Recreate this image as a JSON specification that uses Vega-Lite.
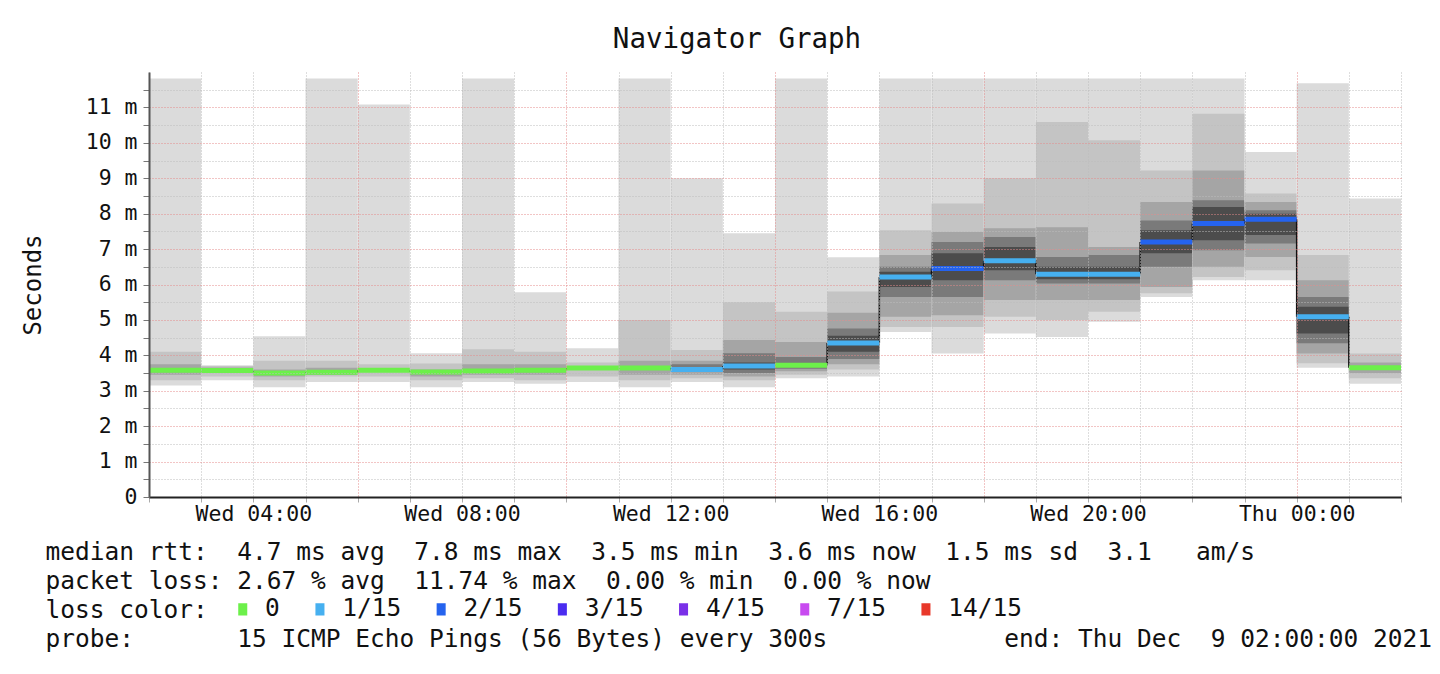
{
  "$schema": "https://vega.github.io/schema/vega-lite/v6.json",
  "width": 1252,
  "height": 425,
  "autosize": {"type": "none"},
  "padding": {"left": 149, "top": 72, "right": 39, "bottom": 177},
  "background": "#ffffff",
  "title": {"text": "Navigator Graph", "font": "DejaVu Sans Mono", "fontSize": 27.5, "fontWeight": "normal", "color": "#111111", "anchor": "middle", "dx": -38, "offset": 19, "frame": "group"},
  "resolve": {"axis": {"x": "independent", "y": "independent"}},
  "datasets": {
    "hours": [
      {"start": "2021-12-08T02:00:00Z", "end": "2021-12-08T03:00:00Z", "median": 3.58, "loss": "0"},
      {"start": "2021-12-08T03:00:00Z", "end": "2021-12-08T04:00:00Z", "median": 3.57, "loss": "0"},
      {"start": "2021-12-08T04:00:00Z", "end": "2021-12-08T05:00:00Z", "median": 3.50, "loss": "0"},
      {"start": "2021-12-08T05:00:00Z", "end": "2021-12-08T06:00:00Z", "median": 3.52, "loss": "0"},
      {"start": "2021-12-08T06:00:00Z", "end": "2021-12-08T07:00:00Z", "median": 3.58, "loss": "0"},
      {"start": "2021-12-08T07:00:00Z", "end": "2021-12-08T08:00:00Z", "median": 3.53, "loss": "0"},
      {"start": "2021-12-08T08:00:00Z", "end": "2021-12-08T09:00:00Z", "median": 3.56, "loss": "0"},
      {"start": "2021-12-08T09:00:00Z", "end": "2021-12-08T10:00:00Z", "median": 3.58, "loss": "0"},
      {"start": "2021-12-08T10:00:00Z", "end": "2021-12-08T11:00:00Z", "median": 3.64, "loss": "0"},
      {"start": "2021-12-08T11:00:00Z", "end": "2021-12-08T12:00:00Z", "median": 3.64, "loss": "0"},
      {"start": "2021-12-08T12:00:00Z", "end": "2021-12-08T13:00:00Z", "median": 3.60, "loss": "1/15"},
      {"start": "2021-12-08T13:00:00Z", "end": "2021-12-08T14:00:00Z", "median": 3.70, "loss": "1/15"},
      {"start": "2021-12-08T14:00:00Z", "end": "2021-12-08T15:00:00Z", "median": 3.72, "loss": "0"},
      {"start": "2021-12-08T15:00:00Z", "end": "2021-12-08T16:00:00Z", "median": 4.35, "loss": "1/15"},
      {"start": "2021-12-08T16:00:00Z", "end": "2021-12-08T17:00:00Z", "median": 6.21, "loss": "1/15"},
      {"start": "2021-12-08T17:00:00Z", "end": "2021-12-08T18:00:00Z", "median": 6.45, "loss": "2/15"},
      {"start": "2021-12-08T18:00:00Z", "end": "2021-12-08T19:00:00Z", "median": 6.67, "loss": "1/15"},
      {"start": "2021-12-08T19:00:00Z", "end": "2021-12-08T20:00:00Z", "median": 6.29, "loss": "1/15"},
      {"start": "2021-12-08T20:00:00Z", "end": "2021-12-08T21:00:00Z", "median": 6.29, "loss": "1/15"},
      {"start": "2021-12-08T21:00:00Z", "end": "2021-12-08T22:00:00Z", "median": 7.20, "loss": "2/15"},
      {"start": "2021-12-08T22:00:00Z", "end": "2021-12-08T23:00:00Z", "median": 7.72, "loss": "2/15"},
      {"start": "2021-12-08T23:00:00Z", "end": "2021-12-09T00:00:00Z", "median": 7.84, "loss": "2/15"},
      {"start": "2021-12-09T00:00:00Z", "end": "2021-12-09T01:00:00Z", "median": 5.09, "loss": "1/15"},
      {"start": "2021-12-09T01:00:00Z", "end": "2021-12-09T02:00:00Z", "median": 3.65, "loss": "0"}
    ],
    "smoke": [
      {"start": "2021-12-08T02:00:00Z", "end": "2021-12-08T03:00:00Z", "band": 1, "lo": 3.15, "hi": 11.82},
      {"start": "2021-12-08T02:00:00Z", "end": "2021-12-08T03:00:00Z", "band": 2, "lo": 3.30, "hi": 4.10},
      {"start": "2021-12-08T02:00:00Z", "end": "2021-12-08T03:00:00Z", "band": 3, "lo": 3.45, "hi": 3.75},
      {"start": "2021-12-08T03:00:00Z", "end": "2021-12-08T04:00:00Z", "band": 1, "lo": 3.30, "hi": 3.72},
      {"start": "2021-12-08T03:00:00Z", "end": "2021-12-08T04:00:00Z", "band": 2, "lo": 3.40, "hi": 3.70},
      {"start": "2021-12-08T03:00:00Z", "end": "2021-12-08T04:00:00Z", "band": 3, "lo": 3.50, "hi": 3.66},
      {"start": "2021-12-08T04:00:00Z", "end": "2021-12-08T05:00:00Z", "band": 1, "lo": 3.10, "hi": 4.54},
      {"start": "2021-12-08T04:00:00Z", "end": "2021-12-08T05:00:00Z", "band": 2, "lo": 3.30, "hi": 3.85},
      {"start": "2021-12-08T04:00:00Z", "end": "2021-12-08T05:00:00Z", "band": 3, "lo": 3.40, "hi": 3.60},
      {"start": "2021-12-08T05:00:00Z", "end": "2021-12-08T06:00:00Z", "band": 1, "lo": 3.25, "hi": 11.82},
      {"start": "2021-12-08T05:00:00Z", "end": "2021-12-08T06:00:00Z", "band": 2, "lo": 3.40, "hi": 3.85},
      {"start": "2021-12-08T05:00:00Z", "end": "2021-12-08T06:00:00Z", "band": 3, "lo": 3.45, "hi": 3.65},
      {"start": "2021-12-08T06:00:00Z", "end": "2021-12-08T07:00:00Z", "band": 1, "lo": 3.25, "hi": 11.08},
      {"start": "2021-12-08T06:00:00Z", "end": "2021-12-08T07:00:00Z", "band": 2, "lo": 3.40, "hi": 3.75},
      {"start": "2021-12-08T07:00:00Z", "end": "2021-12-08T08:00:00Z", "band": 1, "lo": 3.10, "hi": 4.06},
      {"start": "2021-12-08T07:00:00Z", "end": "2021-12-08T08:00:00Z", "band": 2, "lo": 3.30, "hi": 3.77},
      {"start": "2021-12-08T07:00:00Z", "end": "2021-12-08T08:00:00Z", "band": 3, "lo": 3.40, "hi": 3.60},
      {"start": "2021-12-08T08:00:00Z", "end": "2021-12-08T09:00:00Z", "band": 1, "lo": 3.25, "hi": 11.82},
      {"start": "2021-12-08T08:00:00Z", "end": "2021-12-08T09:00:00Z", "band": 2, "lo": 3.35, "hi": 4.17},
      {"start": "2021-12-08T08:00:00Z", "end": "2021-12-08T09:00:00Z", "band": 3, "lo": 3.45, "hi": 3.75},
      {"start": "2021-12-08T09:00:00Z", "end": "2021-12-08T10:00:00Z", "band": 1, "lo": 3.20, "hi": 5.78},
      {"start": "2021-12-08T09:00:00Z", "end": "2021-12-08T10:00:00Z", "band": 2, "lo": 3.30, "hi": 4.10},
      {"start": "2021-12-08T09:00:00Z", "end": "2021-12-08T10:00:00Z", "band": 3, "lo": 3.45, "hi": 3.75},
      {"start": "2021-12-08T10:00:00Z", "end": "2021-12-08T11:00:00Z", "band": 1, "lo": 3.25, "hi": 4.20},
      {"start": "2021-12-08T10:00:00Z", "end": "2021-12-08T11:00:00Z", "band": 2, "lo": 3.40, "hi": 3.80},
      {"start": "2021-12-08T11:00:00Z", "end": "2021-12-08T12:00:00Z", "band": 1, "lo": 3.10, "hi": 11.82},
      {"start": "2021-12-08T11:00:00Z", "end": "2021-12-08T12:00:00Z", "band": 2, "lo": 3.30, "hi": 5.00},
      {"start": "2021-12-08T11:00:00Z", "end": "2021-12-08T12:00:00Z", "band": 3, "lo": 3.45, "hi": 3.85},
      {"start": "2021-12-08T12:00:00Z", "end": "2021-12-08T13:00:00Z", "band": 1, "lo": 3.25, "hi": 9.00},
      {"start": "2021-12-08T12:00:00Z", "end": "2021-12-08T13:00:00Z", "band": 2, "lo": 3.35, "hi": 4.15},
      {"start": "2021-12-08T12:00:00Z", "end": "2021-12-08T13:00:00Z", "band": 3, "lo": 3.45, "hi": 3.85},
      {"start": "2021-12-08T12:00:00Z", "end": "2021-12-08T13:00:00Z", "band": 4, "lo": 3.55, "hi": 3.75},
      {"start": "2021-12-08T13:00:00Z", "end": "2021-12-08T14:00:00Z", "band": 1, "lo": 3.10, "hi": 7.45},
      {"start": "2021-12-08T13:00:00Z", "end": "2021-12-08T14:00:00Z", "band": 2, "lo": 3.30, "hi": 5.50},
      {"start": "2021-12-08T13:00:00Z", "end": "2021-12-08T14:00:00Z", "band": 3, "lo": 3.40, "hi": 4.43},
      {"start": "2021-12-08T13:00:00Z", "end": "2021-12-08T14:00:00Z", "band": 4, "lo": 3.50, "hi": 4.06},
      {"start": "2021-12-08T13:00:00Z", "end": "2021-12-08T14:00:00Z", "band": 5, "lo": 3.60, "hi": 3.80},
      {"start": "2021-12-08T14:00:00Z", "end": "2021-12-08T15:00:00Z", "band": 1, "lo": 3.35, "hi": 11.82},
      {"start": "2021-12-08T14:00:00Z", "end": "2021-12-08T15:00:00Z", "band": 2, "lo": 3.45, "hi": 5.23},
      {"start": "2021-12-08T14:00:00Z", "end": "2021-12-08T15:00:00Z", "band": 3, "lo": 3.55, "hi": 4.38},
      {"start": "2021-12-08T14:00:00Z", "end": "2021-12-08T15:00:00Z", "band": 4, "lo": 3.62, "hi": 3.95},
      {"start": "2021-12-08T15:00:00Z", "end": "2021-12-08T16:00:00Z", "band": 1, "lo": 3.40, "hi": 6.77},
      {"start": "2021-12-08T15:00:00Z", "end": "2021-12-08T16:00:00Z", "band": 2, "lo": 3.60, "hi": 5.80},
      {"start": "2021-12-08T15:00:00Z", "end": "2021-12-08T16:00:00Z", "band": 3, "lo": 3.75, "hi": 5.20},
      {"start": "2021-12-08T15:00:00Z", "end": "2021-12-08T16:00:00Z", "band": 4, "lo": 3.90, "hi": 4.76},
      {"start": "2021-12-08T15:00:00Z", "end": "2021-12-08T16:00:00Z", "band": 5, "lo": 4.10, "hi": 4.55},
      {"start": "2021-12-08T16:00:00Z", "end": "2021-12-08T17:00:00Z", "band": 1, "lo": 4.66, "hi": 11.82},
      {"start": "2021-12-08T16:00:00Z", "end": "2021-12-08T17:00:00Z", "band": 2, "lo": 4.80, "hi": 7.53},
      {"start": "2021-12-08T16:00:00Z", "end": "2021-12-08T17:00:00Z", "band": 3, "lo": 5.09, "hi": 6.83},
      {"start": "2021-12-08T16:00:00Z", "end": "2021-12-08T17:00:00Z", "band": 4, "lo": 5.65, "hi": 6.50},
      {"start": "2021-12-08T16:00:00Z", "end": "2021-12-08T17:00:00Z", "band": 5, "lo": 5.93, "hi": 6.36},
      {"start": "2021-12-08T17:00:00Z", "end": "2021-12-08T18:00:00Z", "band": 1, "lo": 4.05, "hi": 11.82},
      {"start": "2021-12-08T17:00:00Z", "end": "2021-12-08T18:00:00Z", "band": 2, "lo": 4.80, "hi": 8.29},
      {"start": "2021-12-08T17:00:00Z", "end": "2021-12-08T18:00:00Z", "band": 3, "lo": 5.13, "hi": 7.48},
      {"start": "2021-12-08T17:00:00Z", "end": "2021-12-08T18:00:00Z", "band": 4, "lo": 5.65, "hi": 7.20},
      {"start": "2021-12-08T17:00:00Z", "end": "2021-12-08T18:00:00Z", "band": 5, "lo": 6.12, "hi": 6.88},
      {"start": "2021-12-08T18:00:00Z", "end": "2021-12-08T19:00:00Z", "band": 1, "lo": 4.62, "hi": 11.82},
      {"start": "2021-12-08T18:00:00Z", "end": "2021-12-08T19:00:00Z", "band": 2, "lo": 5.09, "hi": 9.00},
      {"start": "2021-12-08T18:00:00Z", "end": "2021-12-08T19:00:00Z", "band": 3, "lo": 5.56, "hi": 7.59},
      {"start": "2021-12-08T18:00:00Z", "end": "2021-12-08T19:00:00Z", "band": 4, "lo": 6.12, "hi": 7.34},
      {"start": "2021-12-08T18:00:00Z", "end": "2021-12-08T19:00:00Z", "band": 5, "lo": 6.40, "hi": 7.06},
      {"start": "2021-12-08T19:00:00Z", "end": "2021-12-08T20:00:00Z", "band": 1, "lo": 4.52, "hi": 11.82},
      {"start": "2021-12-08T19:00:00Z", "end": "2021-12-08T20:00:00Z", "band": 2, "lo": 5.00, "hi": 10.59},
      {"start": "2021-12-08T19:00:00Z", "end": "2021-12-08T20:00:00Z", "band": 3, "lo": 5.56, "hi": 7.62},
      {"start": "2021-12-08T19:00:00Z", "end": "2021-12-08T20:00:00Z", "band": 4, "lo": 6.03, "hi": 6.78},
      {"start": "2021-12-08T19:00:00Z", "end": "2021-12-08T20:00:00Z", "band": 5, "lo": 6.15, "hi": 6.50},
      {"start": "2021-12-08T20:00:00Z", "end": "2021-12-08T21:00:00Z", "band": 1, "lo": 4.95, "hi": 11.82},
      {"start": "2021-12-08T20:00:00Z", "end": "2021-12-08T21:00:00Z", "band": 2, "lo": 5.23, "hi": 10.07},
      {"start": "2021-12-08T20:00:00Z", "end": "2021-12-08T21:00:00Z", "band": 3, "lo": 5.56, "hi": 7.06},
      {"start": "2021-12-08T20:00:00Z", "end": "2021-12-08T21:00:00Z", "band": 4, "lo": 6.03, "hi": 6.83},
      {"start": "2021-12-08T20:00:00Z", "end": "2021-12-08T21:00:00Z", "band": 5, "lo": 6.15, "hi": 6.50},
      {"start": "2021-12-08T21:00:00Z", "end": "2021-12-08T22:00:00Z", "band": 1, "lo": 5.65, "hi": 11.82},
      {"start": "2021-12-08T21:00:00Z", "end": "2021-12-08T22:00:00Z", "band": 2, "lo": 5.75, "hi": 9.22},
      {"start": "2021-12-08T21:00:00Z", "end": "2021-12-08T22:00:00Z", "band": 3, "lo": 5.93, "hi": 8.33},
      {"start": "2021-12-08T21:00:00Z", "end": "2021-12-08T22:00:00Z", "band": 4, "lo": 6.50, "hi": 7.81},
      {"start": "2021-12-08T21:00:00Z", "end": "2021-12-08T22:00:00Z", "band": 5, "lo": 6.88, "hi": 7.53},
      {"start": "2021-12-08T22:00:00Z", "end": "2021-12-08T23:00:00Z", "band": 1, "lo": 6.12, "hi": 11.82},
      {"start": "2021-12-08T22:00:00Z", "end": "2021-12-08T23:00:00Z", "band": 2, "lo": 6.21, "hi": 10.82},
      {"start": "2021-12-08T22:00:00Z", "end": "2021-12-08T23:00:00Z", "band": 3, "lo": 6.50, "hi": 9.22},
      {"start": "2021-12-08T22:00:00Z", "end": "2021-12-08T23:00:00Z", "band": 4, "lo": 6.97, "hi": 8.38},
      {"start": "2021-12-08T22:00:00Z", "end": "2021-12-08T23:00:00Z", "band": 5, "lo": 7.25, "hi": 8.19},
      {"start": "2021-12-08T23:00:00Z", "end": "2021-12-09T00:00:00Z", "band": 1, "lo": 6.12, "hi": 9.74},
      {"start": "2021-12-08T23:00:00Z", "end": "2021-12-09T00:00:00Z", "band": 2, "lo": 6.40, "hi": 8.57},
      {"start": "2021-12-08T23:00:00Z", "end": "2021-12-09T00:00:00Z", "band": 3, "lo": 6.78, "hi": 8.33},
      {"start": "2021-12-08T23:00:00Z", "end": "2021-12-09T00:00:00Z", "band": 4, "lo": 7.16, "hi": 8.10},
      {"start": "2021-12-08T23:00:00Z", "end": "2021-12-09T00:00:00Z", "band": 5, "lo": 7.40, "hi": 8.00},
      {"start": "2021-12-09T00:00:00Z", "end": "2021-12-09T01:00:00Z", "band": 1, "lo": 3.65, "hi": 11.68},
      {"start": "2021-12-09T00:00:00Z", "end": "2021-12-09T01:00:00Z", "band": 2, "lo": 3.78, "hi": 6.83},
      {"start": "2021-12-09T00:00:00Z", "end": "2021-12-09T01:00:00Z", "band": 3, "lo": 4.05, "hi": 6.12},
      {"start": "2021-12-09T00:00:00Z", "end": "2021-12-09T01:00:00Z", "band": 4, "lo": 4.34, "hi": 5.65},
      {"start": "2021-12-09T00:00:00Z", "end": "2021-12-09T01:00:00Z", "band": 5, "lo": 4.62, "hi": 5.37},
      {"start": "2021-12-09T01:00:00Z", "end": "2021-12-09T02:00:00Z", "band": 1, "lo": 3.20, "hi": 8.43},
      {"start": "2021-12-09T01:00:00Z", "end": "2021-12-09T02:00:00Z", "band": 2, "lo": 3.35, "hi": 4.05},
      {"start": "2021-12-09T01:00:00Z", "end": "2021-12-09T02:00:00Z", "band": 3, "lo": 3.50, "hi": 3.80}
    ]
  },
  "layer": [
    {
      "data": {"name": "smoke"},
      "mark": {"type": "bar"},
      "encoding": {
        "x": {
          "field": "start", "type": "temporal",
          "scale": {"type": "utc", "domain": [1638928800000, 1639015200000], "nice": false},
          "axis": {
            "title": [
              "median\u00a0rtt:\u00a0\u00a04.7\u00a0ms\u00a0avg\u00a0\u00a07.8\u00a0ms\u00a0max\u00a0\u00a03.5\u00a0ms\u00a0min\u00a0\u00a03.6\u00a0ms\u00a0now\u00a0\u00a01.5\u00a0ms\u00a0sd\u00a0\u00a03.1\u00a0\u00a0\u00a0am/s",
              "packet\u00a0loss:\u00a02.67\u00a0%\u00a0avg\u00a0\u00a011.74\u00a0%\u00a0max\u00a0\u00a00.00\u00a0%\u00a0min\u00a0\u00a00.00\u00a0%\u00a0now",
              "loss\u00a0color:",
              "probe:\u00a0\u00a0\u00a0\u00a0\u00a0\u00a0\u00a015\u00a0ICMP\u00a0Echo\u00a0Pings\u00a0(56\u00a0Bytes)\u00a0every\u00a0300s\u00a0\u00a0\u00a0\u00a0\u00a0\u00a0\u00a0\u00a0\u00a0\u00a0\u00a0\u00a0end:\u00a0Thu\u00a0Dec\u00a0\u00a09\u00a002:00:00\u00a02021"
            ],
            "titleX": -104, "titleY": 62, "titleAlign": "left", "titleBaseline": "alphabetic", "titleAngle": 0,
            "titleFont": "DejaVu Sans Mono", "titleFontSize": 24.5, "titleFontWeight": "normal", "titleColor": "#111111", "titleLineHeight": 29, "titleLimit": 3000,
            "values": [1638928800000, 1638932400000, 1638936000000, 1638939600000, 1638943200000, 1638946800000, 1638950400000, 1638954000000, 1638957600000, 1638961200000, 1638964800000, 1638968400000, 1638972000000, 1638975600000, 1638979200000, 1638982800000, 1638986400000, 1638990000000, 1638993600000, 1638997200000, 1639000800000, 1639004400000, 1639008000000, 1639011600000, 1639015200000],
            "labelExpr": "utchours(datum.value) % 4 == 0 ? utcFormat(datum.value, '%a %H:%M') : ''",
            "labelOverlap": false, "labelFlush": false, "labelFont": "DejaVu Sans Mono", "labelFontSize": 21.5, "labelColor": "#111111", "labelPadding": 1,
            "tickSize": 5, "tickColor": "#aaaaaa", "tickWidth": 1,
            "grid": true, "gridDash": [1, 2], "gridWidth": 1,
            "gridColor": {"condition": {"test": "utchours(datum.value) == 0 || utchours(datum.value) == 6 || utchours(datum.value) == 10 || utchours(datum.value) == 14 || utchours(datum.value) == 18", "value": "#e58a8a"}, "value": "#bdbdbd"},
            "domainColor": "#222222", "domainWidth": 2, "zindex": 1
          }
        },
        "x2": {"field": "end"},
        "y": {
          "field": "lo", "type": "quantitative",
          "scale": {"domain": [0, 12], "nice": false, "zero": true},
          "axis": {
            "title": "Seconds", "titleFont": "DejaVu Sans Mono", "titleFontSize": 24, "titleFontWeight": "normal", "titleColor": "#111111", "titlePadding": 40,
            "values": [0, 0.5, 1, 1.5, 2, 2.5, 3, 3.5, 4, 4.5, 5, 5.5, 6, 6.5, 7, 7.5, 8, 8.5, 9, 9.5, 10, 10.5, 11, 11.5],
            "labelExpr": "datum.value % 1 != 0 ? '' : (datum.value == 0 ? '0' : datum.value + ' m')",
            "labelFont": "DejaVu Sans Mono", "labelFontSize": 21.5, "labelColor": "#111111", "labelPadding": 6, "labelOverlap": false,
            "tickSize": 6, "tickColor": "#777777",
            "grid": true, "gridDash": [1, 2], "gridWidth": 1,
            "gridColor": {"condition": {"test": "datum.value % 1 == 0", "value": "#e58a8a"}, "value": "#bdbdbd"},
            "domainColor": "#555555", "domainWidth": 2, "zindex": 1
          }
        },
        "y2": {"field": "hi"},
        "fill": {
          "field": "band", "type": "ordinal",
          "scale": {"domain": [1, 2, 3, 4, 5], "range": ["#dbdbdb", "#c4c4c4", "#a5a5a5", "#7a7a7a", "#4c4c4c"]},
          "legend": null
        }
      }
    },
    {
      "data": {"name": "hours"},
      "transform": [
        {"window": [{"op": "lag", "field": "median", "as": "prev"}], "sort": [{"field": "start", "order": "ascending"}]},
        {"filter": "isValid(datum.prev)"}
      ],
      "mark": {"type": "rule", "strokeWidth": 1.5},
      "encoding": {
        "x": {"field": "start", "type": "temporal", "axis": null},
        "y": {"field": "prev", "type": "quantitative", "axis": null},
        "y2": {"field": "median"},
        "color": {"value": "#111111"}
      }
    },
    {
      "data": {"name": "hours"},
      "mark": {"type": "rule", "strokeWidth": 5, "strokeCap": "butt"},
      "encoding": {
        "x": {"field": "start", "type": "temporal", "axis": null},
        "x2": {"field": "end"},
        "y": {"field": "median", "type": "quantitative", "axis": null},
        "stroke": {
          "field": "loss", "type": "nominal",
          "scale": {"domain": ["0", "1/15", "2/15", "3/15", "4/15", "7/15", "14/15"], "range": ["#6cf04a", "#46b0f0", "#2563ee", "#4a2cf0", "#7a30e8", "#c84af0", "#e8382a"]},
          "legend": {
            "orient": "none", "legendX": 81.5, "legendY": 525, "direction": "horizontal", "padding": 0,
            "title": null,
            "labelFont": "DejaVu Sans Mono", "labelFontSize": 24.5, "labelColor": "#111111", "labelOffset": 10.1, "columnPadding": 27.2, "labelLimit": 400,
            "symbolType": "M-0.35,-0.5H0.35V0.5H-0.35Z", "symbolSize": 462, "symbolStrokeWidth": 1.5,
            "encode": {"symbols": {"update": {"shape": {"value": "M-0.35,-0.5H0.35V0.5H-0.35Z"}, "size": {"value": 462}, "fill": {"scale": "stroke", "field": "value"}, "stroke": {"value": "#222222"}, "fillOpacity": {"value": 1}, "strokeWidth": {"value": 1.5}}}}
          }
        }
      }
    }
  ],
  "config": {"view": {"stroke": null}, "font": "DejaVu Sans Mono"}
}
